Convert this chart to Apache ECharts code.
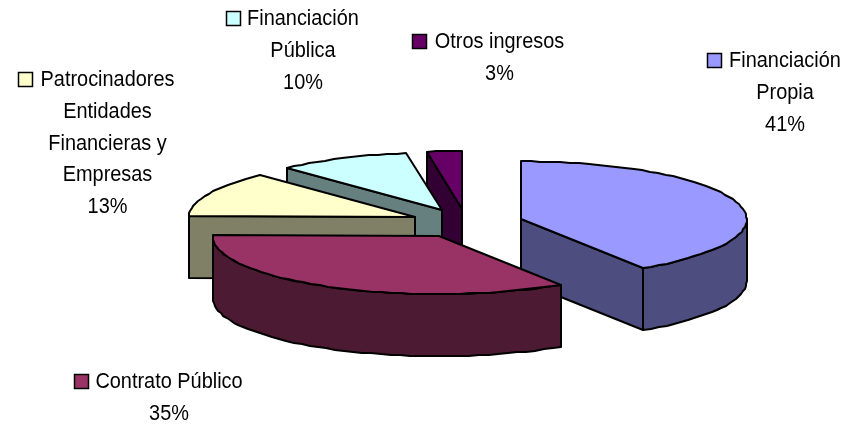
<!DOCTYPE html>
<html><head><meta charset="utf-8">
<style>html,body{margin:0;padding:0;background:#fff}#c{width:846px;height:424px}</style>
<script src="https://cdn.jsdelivr.net/npm/echarts@6/dist/echarts.min.js"></script>
</head><body><div id="c"></div>
<script>
// Data
const categories = ['Financiación Propia','Contrato Público','Patrocinadores Entidades Financieras y Empresas','Financiación Pública','Otros ingresos'];
const labelLines = [['Financiación','Propia'],['Contrato Público'],['Patrocinadores','Entidades','Financieras y','Empresas'],['Financiación','Pública'],['Otros ingresos']];
const values = [40.9, 34.5, 12.6, 9.5, 2.5];
// Styles / layout
const topColors = ['#9999FF','#993366','#FFFFCC','#CCFFFF','#660066'];
const sideColors = ['#4D4D80','#4D1A33','#808066','#668080','#330033'];
const labelCenters = [[785,61],[169,382],[107.5,80],[303,19],[499.5,42]];
const keyLefts = [707,74,18,226,412];
const lineHeight = 31.8;
const pie = {cx:466.5, cy:223.4, rx:226, ry:58, depth:62, explode:0.25};
const drawOrder = [4,3,2,0,1];
const FONT = '"Liberation Sans",Arial,sans-serif';
const fontSize = 22, textScaleX = 0.905;

const total = values.reduce((a,b)=>a+b,0);
let acc = 0;
const slices = values.map(v=>{const s=acc/total*Math.PI*2; acc+=v; return {s, e:acc/total*Math.PI*2};});

function pt(ax,ay,a){return [Math.round(ax+pie.rx*Math.sin(a)), Math.round(ay-pie.ry*Math.cos(a))];}
function arc(ax,ay,a0,a1){const n=Math.max(2,Math.round((a1-a0)/(Math.PI/72)));const r=[];for(let i=0;i<=n;i++)r.push(pt(ax,ay,a0+(a1-a0)*i/n));return r;}
const poly=(points,fill)=>({type:'polygon',shape:{points},style:{fill,stroke:'#000',lineWidth:2,lineJoin:'round'}});

function renderItem(params,api){
  const i=api.value(0), sl=slices[i], mid=(sl.s+sl.e)/2;
  const ax=pie.cx+pie.explode*pie.rx*Math.sin(mid), ay=pie.cy-pie.explode*pie.ry*Math.cos(mid);
  const d=pie.depth, ch=[];
  const down=p=>[p[0],p[1]+d];
  const apex=[Math.round(ax),Math.round(ay)];
  if(Math.sin(sl.s)<-1e-6){const p=pt(ax,ay,sl.s);ch.push(poly([apex,p,down(p),down(apex)],sideColors[i]));}
  if(Math.sin(sl.e)>1e-6){const p=pt(ax,ay,sl.e);ch.push(poly([apex,p,down(p),down(apex)],sideColors[i]));}
  const w0=Math.max(sl.s,Math.PI/2), w1=Math.min(sl.e,Math.PI*1.5);
  if(w1>w0){const a=arc(ax,ay,w0,w1);ch.push(poly(a.concat(a.map(down).reverse()),sideColors[i]));}
  ch.push(poly([apex].concat(arc(ax,ay,sl.s,sl.e)),topColors[i]));
  const c=labelCenters[i];
  const text=labelLines[i].concat([Math.round(values[i]/total*100)+'%']);
  text.forEach((t,k)=>ch.push({type:'text',x:c[0],y:c[1]+k*lineHeight,scaleX:textScaleX,
    style:{text:t,x:0,y:0,align:'center',verticalAlign:'middle',font:fontSize+'px '+FONT,fill:'#000'}}));
  ch.push({type:'rect',shape:{x:keyLefts[i]+.5,y:c[1]-7.5,width:14,height:14},style:{fill:topColors[i],stroke:'#000',lineWidth:1.5}});
  return {type:'group',children:ch};
}
const chart=echarts.init(document.getElementById('c'),null,{renderer:'canvas'});
chart.setOption({animation:false,series:[{type:'custom',coordinateSystem:'none',renderItem,silent:true,
  data:drawOrder.map(i=>[i,values[i],categories[i]]),encode:{}}]});
</script></body></html>
